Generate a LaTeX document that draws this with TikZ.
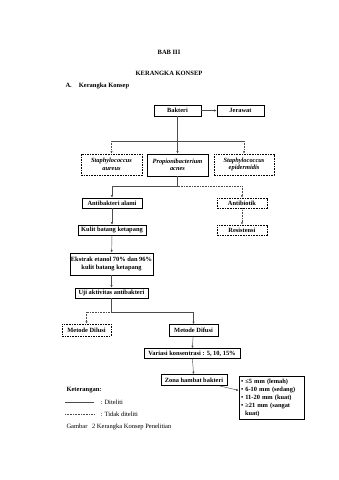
\documentclass[tikz,border=0pt]{standalone}
\usepackage{fontspec}
\setmainfont{Liberation Serif}
\usetikzlibrary{arrows.meta}
\begin{document}
\begin{tikzpicture}[x=1pt,y=-1pt,
  txt/.style={font=\fontsize{6.5}{7.5}\selectfont\bfseries},
  plain/.style={font=\fontsize{6.5}{7.5}\selectfont},
  solidbox/.style={draw=black,line width=0.8pt,inner sep=1pt,align=center,font=\fontsize{6.4}{7.6}\selectfont\bfseries},
  dashbox/.style={solidbox,dash pattern=on 1.6pt off 1pt,line width=0.7pt},
  conn/.style={draw=black!70,line width=0.45pt},
  dconn/.style={conn,dash pattern=on 0.8pt off 0.8pt},
  arr/.style={-{Latex[length=2.4pt,width=2.2pt]}}
]
\useasboundingbox (0,0) rectangle (339,480);
\fill[white] (0,0) rectangle (339,480);

\node[txt] (bab) at (169,52) {BAB III};
\node[txt] (judul) at (169,73) {KERANGKA KONSEP};
\node[txt,anchor=west] (seca) at (62,86) {A.\hspace{7pt}Kerangka Konsep};

\node[solidbox,minimum width=47pt,minimum height=11pt] (bakteri) at (177.5,110.5) {Bakteri};
\node[solidbox,minimum width=47pt,minimum height=11pt] (jerawat) at (240.5,110.5) {Jerawat};

\node[dashbox,minimum width=61pt,minimum height=21pt] (saureus) at (111.5,164.5) {\itshape Staphylococcus\\\itshape aureus};
\node[solidbox,minimum width=61pt,minimum height=22pt] (pacnes) at (177.5,165) {\itshape Propionibacterium\\\itshape acnes};
\node[dashbox,minimum width=60pt,minimum height=21pt] (sepi) at (244,164.5) {\itshape Staphylococcus\\\itshape epidermidis};

\node[solidbox,minimum width=60pt,minimum height=10pt] (alami) at (112,203) {Antibakteri alami};
\node[dashbox,minimum width=50pt,minimum height=10pt] (antibiotik) at (242,203) {Antibiotik};
\node[solidbox,minimum width=68pt,minimum height=10pt] (kulit) at (112,230) {Kulit batang ketapang};
\node[dashbox,minimum width=50pt,minimum height=10pt] (resist) at (242,230) {Resistensi};
\node[solidbox,minimum width=83pt,minimum height=22pt] (ekstrak) at (111.5,264) {Ekstrak etanol 70\% dan 96\%\\kulit batang ketapang};
\node[solidbox,minimum width=73pt,minimum height=10pt] (uji) at (111.5,293) {Uji aktivitas antibakteri};

\node[dashbox,minimum width=49pt,minimum height=12pt] (dilusi) at (86.5,330) {Metode Dilusi};
\node[solidbox,minimum width=49pt,minimum height=12pt] (difusi) at (193.5,330.5) {Metode Difusi};
\node[solidbox,minimum width=96pt,minimum height=10pt] (variasi) at (192,353.5) {Variasi konsentrasi : 5, 10, 15\%};
\node[solidbox,minimum width=66pt,minimum height=11pt] (zona) at (194,380) {Zona hambat bakteri};
\node[solidbox,text width=61pt,align=left,inner sep=2pt,font=\fontsize{6.4}{8.2}\selectfont\bfseries] (hasil) at (271.5,398) {%
\textbullet\ ≤5 mm (lemah)\\
\textbullet\ 6-10 mm (sedang)\\
\textbullet\ 11-20 mm (kuat)\\
\textbullet\ ≥21 mm (sangat\\\hspace*{4pt}kuat)};

% connectors
\draw[conn,arr] (bakteri) -- (jerawat);
\coordinate (j1) at (177.5,141);
\draw[conn] (bakteri.south) -- (j1);
\draw[conn] (j1) -- (j1 -| saureus) (j1) -- (j1 -| sepi);
\draw[conn,arr] (j1) -- (pacnes.north);
\draw[dconn,arr] (j1 -| saureus) -- (saureus.north);
\draw[dconn,arr] (j1 -| sepi) -- (sepi.north);

\coordinate (j2) at (177.5,186);
\draw[conn] (pacnes.south) -- (j2);
\draw[conn] (j2) -- (j2 -| alami);
\draw[conn,arr] (j2 -| alami) -- (alami.north);
\draw[dconn] (j2) -- (j2 -| antibiotik);
\draw[dconn,arr] (j2 -| antibiotik) -- (antibiotik.north);
\draw[dconn,arr] (antibiotik) -- (resist);
\draw[conn,arr] (alami) -- (kulit);
\draw[conn,arr] (kulit) -- (ekstrak);
\draw[conn,arr] (ekstrak) -- (uji);

\coordinate (j3) at (111.5,312);
\draw[conn] (uji.south) -- (j3);
\draw[dconn] (j3) -- (j3 -| dilusi);
\draw[dconn,arr] (j3 -| dilusi) -- (dilusi.north);
\draw[conn] (j3) -- (j3 -| difusi);
\draw[conn,arr] (j3 -| difusi) -- (difusi.north);
\draw[conn,arr] (difusi) -- (variasi);
\draw[conn,arr] (variasi) -- (zona);
\draw[conn,arr] (zona) -- (hasil);

% legend
\node[txt,anchor=west] (ket) at (63,390) {Keterangan:};
\coordinate (l1a) at (65,402);
\coordinate (l1b) at (94,402);
\draw[conn] (l1a) -- (l1b);
\node[plain,anchor=west] (dit) at (97,402) {: Diteliti};
\coordinate (l2a) at (65,414);
\coordinate (l2b) at (94,414);
\draw[dconn] (l2a) -- (l2b);
\node[plain,anchor=west] (tdit) at (97,414) {: Tidak diteliti};
\node[plain,anchor=west] (gambar) at (63,427) {Gambar\hspace{3pt} 2 Kerangka Konsep Penelitian};
\end{tikzpicture}
\end{document}
